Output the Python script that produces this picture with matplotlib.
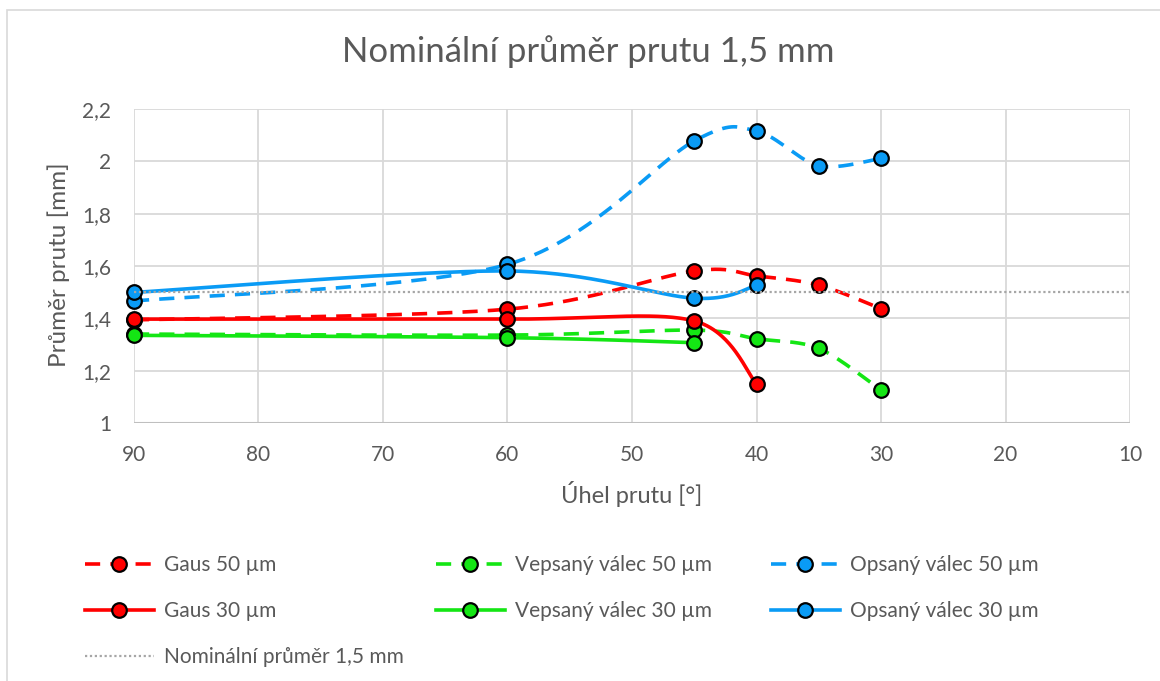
import numpy as np
import matplotlib
matplotlib.use('Agg')
import matplotlib.pyplot as plt
from matplotlib.lines import Line2D
from matplotlib.patches import Rectangle

# ---------------- data ----------------
angles_50 = [90, 60, 45, 40, 35, 30]
gaus_50 = [1.394, 1.435, 1.581, 1.562, 1.527, 1.437]
vepsany_50 = [1.340, 1.336, 1.355, 1.322, 1.285, 1.126]
opsany_50 = [1.466, 1.606, 2.078, 2.116, 1.983, 2.011]

angles_g30 = [90, 60, 45, 40]
gaus_30 = [1.397, 1.397, 1.390, 1.150]
angles_v30 = [90, 60, 45]
vepsany_30 = [1.335, 1.326, 1.307]
angles_o30 = [90, 60, 45, 40]
opsany_30 = [1.499, 1.581, 1.477, 1.526]

nominal_x = [90, 10]
nominal_y = [1.5, 1.5]

x_ticks = [90, 80, 70, 60, 50, 40, 30, 20, 10]
y_ticks = [1.0, 1.2, 1.4, 1.6, 1.8, 2.0, 2.2]
y_tick_labels = ['1', '1,2', '1,4', '1,6', '1,8', '2', '2,2']

RED = '#FF0000'
GREEN = '#14E614'
BLUE = '#0A9BF5'
TXT = '#595959'

plt.rcParams['font.family'] = ['Lato', 'DejaVu Sans']

fig = plt.figure(figsize=(11.6, 6.81), dpi=100)
ax = fig.add_axes([134/1160, 1-423/681, (1130-134)/1160, (423-109)/681])

XMIN, XMAX, YMIN, YMAX = 90, 10, 1.0, 2.2
ax.set_xlim(XMIN, XMAX)
ax.set_ylim(YMIN, YMAX)
SX = 996 / 80.0
SY = 314 / 1.2


def smooth(xs, ys, n=60):
    P = np.column_stack([np.asarray(xs, float) * SX, np.asarray(ys, float) * SY])
    m = len(P)
    out = []
    for i in range(m - 1):
        p0 = P[i - 1] if i > 0 else P[i]
        p1 = P[i]
        p2 = P[i + 1]
        p3 = P[i + 2] if i + 2 < m else P[i + 1]
        c1 = p1 + (p2 - p0) / 6.5
        c2 = p2 - (p3 - p1) / 6.5
        t = np.linspace(0, 1, n)[:, None]
        seg = ((1 - t) ** 3) * p1 + 3 * ((1 - t) ** 2) * t * c1 + 3 * (1 - t) * t ** 2 * c2 + t ** 3 * p2
        if i > 0:
            seg = seg[1:]
        out.append(seg)
    Q = np.vstack(out)
    return Q[:, 0] / SX, Q[:, 1] / SY


LW = 2.6
MS = 10.5
DASH = (4.2, 2.8)

series = [
    (angles_50, gaus_50, RED, True, 'Gaus 50 µm'),
    (angles_50, vepsany_50, GREEN, True, 'Vepsaný válec 50 µm'),
    (angles_50, opsany_50, BLUE, True, 'Opsaný válec 50 µm'),
    (angles_g30, gaus_30, RED, False, 'Gaus 30 µm'),
    (angles_v30, vepsany_30, GREEN, False, 'Vepsaný válec 30 µm'),
    (angles_o30, opsany_30, BLUE, False, 'Opsaný válec 30 µm'),
]

handles = {}
z = 3
for xs, ys, col, dashed, lab in series:
    sx, sy = smooth(xs, ys)
    if dashed:
        ax.plot(sx, sy, color=col, lw=LW, dashes=DASH, zorder=z, solid_capstyle='butt', dash_capstyle='butt')
    else:
        ax.plot(sx, sy, color=col, lw=LW, zorder=z)
    ax.plot(xs, ys, 'o', ms=MS, mfc=col, mec='black', mew=1.6, zorder=z + 0.5, clip_on=False)
    z += 1
    h = Line2D([], [], color=col, lw=LW, marker='o', ms=MS, mfc=col, mec='black', mew=1.6)
    if dashed:
        h.set_dashes(DASH)
    handles[lab] = h

ax.plot(nominal_x, nominal_y, color='#A6A6A6', lw=1.6, dashes=(1, 1.2), zorder=z)
handles['Nominální průměr 1,5 mm'] = Line2D([], [], color='#A6A6A6', lw=1.6, dashes=(1, 1.2))

# axes styling
for s in ax.spines.values():
    s.set_visible(False)
ax.set_xticks(x_ticks)
ax.set_yticks(y_ticks)
ax.set_yticklabels(y_tick_labels)
ax.grid(True, color='#D9D9D9', lw=1.3)
ax.set_axisbelow(True)
ax.tick_params(length=0, labelsize=15, colors=TXT)
ax.tick_params(axis='x', pad=16)
ax.tick_params(axis='y', pad=16.5)
ax.axhline(YMIN, color='#BFBFBF', lw=1.5, zorder=2)

ax.set_xlabel('Úhel prutu [°]', fontsize=17, color=TXT)
ax.set_ylabel('Průměr prutu [mm]', fontsize=17.5, color=TXT)
ax.xaxis.label.set_va('center')
ax.yaxis.label.set_va('center')
ax.xaxis.set_label_coords(0.5, (423 - 494) / 314)
ax.yaxis.set_label_coords((59 - 134) / 996, (423 - 265) / 314)

fig.text(588/1160, 1 - 52/681, 'Nominální průměr prutu 1,5 mm', fontsize=25, color=TXT,
         ha='center', va='center')

# legend in three columns
cols = [
    (['Gaus 50 µm', 'Gaus 30 µm', 'Nominální průměr 1,5 mm'], 85),
    (['Vepsaný válec 50 µm', 'Vepsaný válec 30 µm'], 436),
    (['Opsaný válec 50 µm', 'Opsaný válec 30 µm'], 771),
]
for labs, xpx in cols:
    fig.legend([handles[l] for l in labs], labs, loc='upper left',
               bbox_to_anchor=(xpx/1160, 1 - 555/681), frameon=False, fontsize=15,
               handlelength=3.3, handletextpad=0.5, labelspacing=1.25, borderpad=0,
               borderaxespad=0, labelcolor=TXT)

fig.patches.append(Rectangle((7/1160, -0.1), 1.2, 1 - 10/681 + 0.1, transform=fig.transFigure,
                             fill=False, ec='#D9D9D9', lw=1.2))

fig.savefig('out.png', dpi=100)
